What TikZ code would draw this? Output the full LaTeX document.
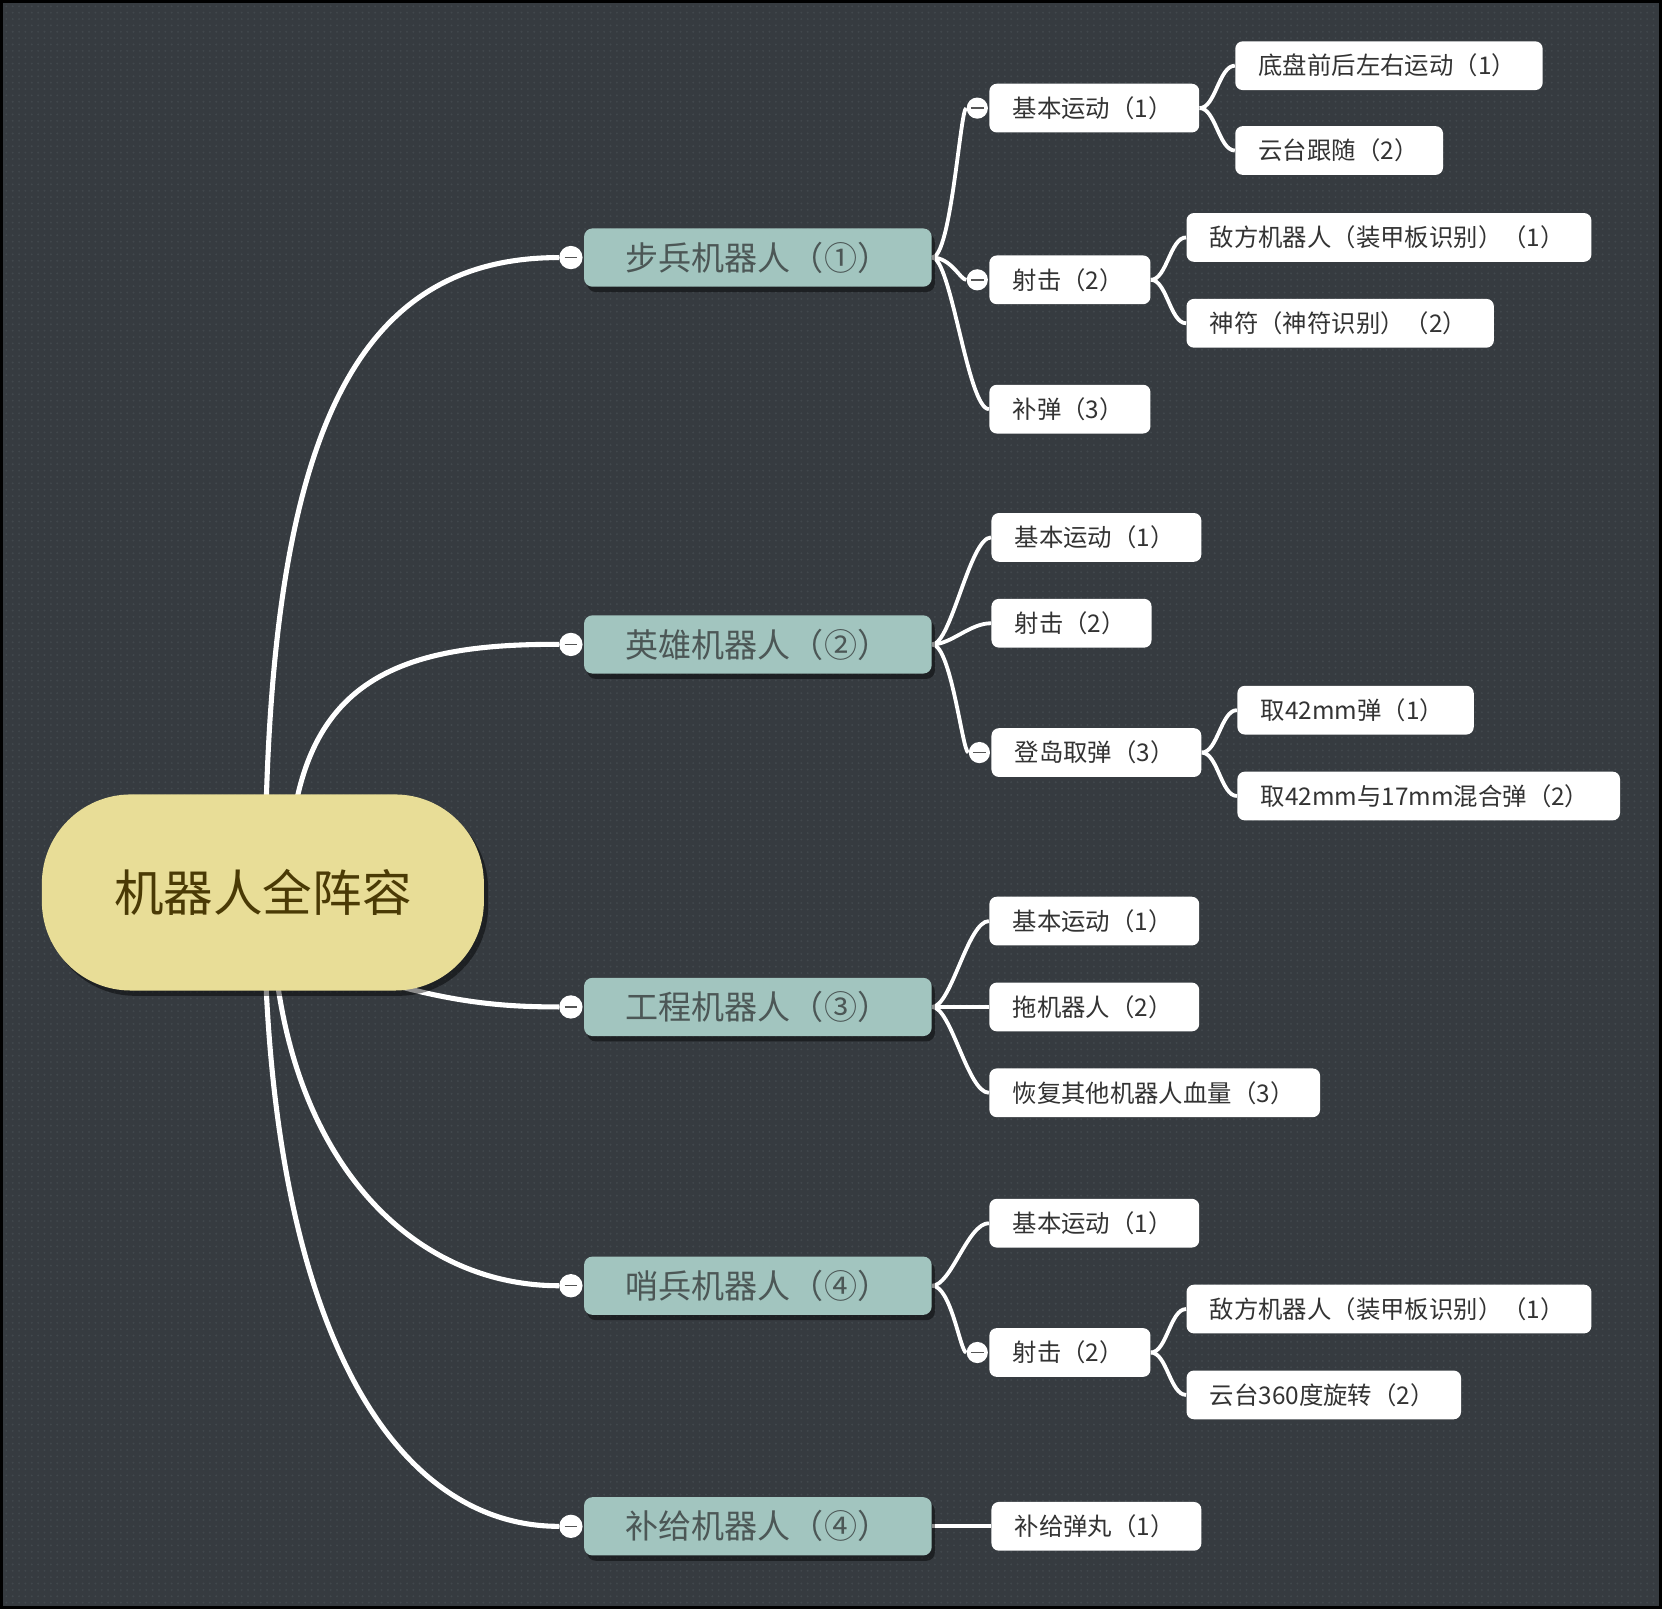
\documentclass[tikz,border=0pt]{standalone}
\usepackage{fontspec}
\newfontfamily\cjk{Noto Sans CJK SC}
\usetikzlibrary{shadows,patterns,calc}
\definecolor{bgc}{HTML}{363B40}
\definecolor{dotc}{HTML}{42484D}
\definecolor{rootc}{HTML}{E8DD97}
\definecolor{roottxt}{HTML}{4A3A05}
\definecolor{lonec}{HTML}{A2C5BF}
\definecolor{lonetxt}{HTML}{4C5756}
\definecolor{leaftxt}{HTML}{333333}
\definecolor{btnc}{HTML}{555555}
\pgfdeclarelayer{back}
\pgfdeclarelayer{links}
\pgfsetlayers{back,links,main}
\tikzset{
  rootnode/.style={fill=rootc, rounded corners=42pt, minimum width=208.5pt,
    minimum height=92.5pt, inner sep=0pt, font=\cjk\fontsize{23.4}{28}\selectfont,
    text=roottxt, drop shadow={shadow xshift=2pt, shadow yshift=-2.5pt, fill=black, opacity=0.45}},
  mainbox/.style={fill=lonec, rounded corners=4pt, minimum width=164pt,
    minimum height=27.5pt, inner sep=0pt, font=\cjk\fontsize{15.6}{18}\selectfont,
    text=lonetxt, drop shadow={shadow xshift=1.5pt, shadow yshift=-2.5pt, fill=black, opacity=0.45}},
  leafbox/.style={fill=white, rounded corners=3.5pt, anchor=west, minimum height=23pt,
    inner xsep=11pt, inner ysep=0pt, align=left, font=\cjk\fontsize{11.5}{13}\selectfont,
    text=leaftxt},
  btnnode/.style={circle, fill=white, minimum size=#1, inner sep=0pt,
    path picture={\draw[btnc, line width=0.7pt]
      ([xshift=-3pt]path picture bounding box.center) -- ([xshift=3pt]path picture bounding box.center);}},
  rootline/.style={white, line width=2.4pt},
  subline/.style={white, line width=1.8pt},
}
\newcommand\leafnode[5]{%
  \pgfmathsetmacro\leafw{(#3-#2)*0.5-22}%
  \node[leafbox, text width=\leafw pt] (#1) at (#2,#4) {#5};%
}
\begin{document}
\begin{tikzpicture}[x=0.5pt,y=-0.5pt]
\useasboundingbox (0,0) rectangle (1568,1518);
\begin{pgfonlayer}{back}
  \fill[bgc] (0,0) rectangle (1568,1518);
  \fill[pattern=dots, pattern color=dotc] (0,0) rectangle (1568,1518);
  \draw[black, line width=3pt] (0,0) rectangle (1568,1518);
\end{pgfonlayer}

% root
\node[rootnode] (root) at (248,842) {机器人全阵容};

% level 1
\node[mainbox] (inf) at (715,243) {步兵机器人（①）};
\node[mainbox] (hero) at (715,608) {英雄机器人（②）};
\node[mainbox] (eng) at (715,950) {工程机器人（③）};
\node[mainbox] (sen) at (715,1213) {哨兵机器人（④）};
\node[mainbox] (sup) at (715,1440) {补给机器人（④）};

\node[btnnode=11pt] (infbtn) at ([xshift=-6pt]inf.west) {};
\node[btnnode=11pt] (herobtn) at ([xshift=-6pt]hero.west) {};
\node[btnnode=11pt] (engbtn) at ([xshift=-6pt]eng.west) {};
\node[btnnode=11pt] (senbtn) at ([xshift=-6pt]sen.west) {};
\node[btnnode=11pt] (supbtn) at ([xshift=-6pt]sup.west) {};

% infantry
\leafnode{ia}{933}{1131}{102}{基本运动（1）}
\leafnode{iaa}{1165}{1455}{62}{底盘前后左右运动（1）}
\leafnode{iab}{1165}{1361}{142}{云台跟随（2）}
\leafnode{ib}{933}{1085}{264}{射击（2）}
\leafnode{iba}{1119}{1501}{224}{敌方机器人（装甲板识别）（1）}
\leafnode{ibb}{1119}{1409}{305}{神符（神符识别）（2）}
\leafnode{ic}{933}{1085}{386}{补弹（3）}
\node[btnnode=10pt] (iabtn) at ([xshift=-5.5pt]ia.west) {};
\node[btnnode=10pt] (ibbtn) at ([xshift=-5.5pt]ib.west) {};

% hero
\leafnode{ha}{935}{1133}{507}{基本运动（1）}
\leafnode{hb}{935}{1086}{588}{射击（2）}
\leafnode{hc}{935}{1133}{710}{登岛取弹（3）}
\leafnode{hca}{1167}{1390}{670}{取42mm弹（1）}
\leafnode{hcb}{1167}{1528}{751}{取42mm与17mm混合弹（2）}
\node[btnnode=10pt] (hcbtn) at ([xshift=-5.5pt]hc.west) {};

% engineer
\leafnode{ea}{933}{1131}{869}{基本运动（1）}
\leafnode{eb}{933}{1131}{950}{拖机器人（2）}
\leafnode{ec}{933}{1245}{1031}{恢复其他机器人血量（3）}

% sentry
\leafnode{sa}{933}{1131}{1154}{基本运动（1）}
\leafnode{sb}{933}{1085}{1276}{射击（2）}
\leafnode{sba}{1119}{1501}{1235}{敌方机器人（装甲板识别）（1）}
\leafnode{sbb}{1119}{1378}{1316}{云台360度旋转（2）}
\node[btnnode=10pt] (sbbtn) at ([xshift=-5.5pt]sb.west) {};

% supply
\leafnode{pa}{935}{1133}{1440}{补给弹丸（1）}

\begin{pgfonlayer}{links}
  % root -> level 1
  \draw[rootline] ($(root.center)+(2,0)$) .. controls (250,420) and (329,243) .. (infbtn);
  \draw[rootline] ($(root.center)+(24,0)$) .. controls (272,650) and (360,607) .. (herobtn);
  \draw[rootline] ($(root.center)+(92,78)$) .. controls (420,945) and (470,950) .. (engbtn);
  \draw[rootline] ($(root.center)+(8,0)$) .. controls (256,1080) and (380,1213) .. (senbtn);
  \draw[rootline] ($(root.center)+(1,0)$) .. controls (249,1250) and (370,1440) .. (supbtn);
  % level 1 -> level 2
  \draw[subline] (inf.east) .. controls +(18,0) and +(-16,0) .. (iabtn);
  \draw[subline] (inf.east) .. controls +(18,0) and +(-16,0) .. (ibbtn);
  \draw[subline] (inf.east) .. controls +(18,0) and +(-20,0) .. (ic.west);
  \draw[subline] (hero.east) .. controls +(18,0) and +(-20,0) .. (ha.west);
  \draw[subline] (hero.east) .. controls +(18,0) and +(-20,0) .. (hb.west);
  \draw[subline] (hero.east) .. controls +(18,0) and +(-16,0) .. (hcbtn);
  \draw[subline] (eng.east) .. controls +(18,0) and +(-20,0) .. (ea.west);
  \draw[subline] (eng.east) .. controls +(18,0) and +(-20,0) .. (eb.west);
  \draw[subline] (eng.east) .. controls +(18,0) and +(-20,0) .. (ec.west);
  \draw[subline] (sen.east) .. controls +(18,0) and +(-20,0) .. (sa.west);
  \draw[subline] (sen.east) .. controls +(18,0) and +(-16,0) .. (sbbtn);
  \draw[subline] (sup.east) -- (pa.west);
  % level 2 -> level 3
  \draw[subline] (ia.east) .. controls +(15,0) and +(-15,0) .. (iaa.west);
  \draw[subline] (ia.east) .. controls +(15,0) and +(-15,0) .. (iab.west);
  \draw[subline] (ib.east) .. controls +(15,0) and +(-15,0) .. (iba.west);
  \draw[subline] (ib.east) .. controls +(15,0) and +(-15,0) .. (ibb.west);
  \draw[subline] (hc.east) .. controls +(15,0) and +(-15,0) .. (hca.west);
  \draw[subline] (hc.east) .. controls +(15,0) and +(-15,0) .. (hcb.west);
  \draw[subline] (sb.east) .. controls +(15,0) and +(-15,0) .. (sba.west);
  \draw[subline] (sb.east) .. controls +(15,0) and +(-15,0) .. (sbb.west);
\end{pgfonlayer}
\end{tikzpicture}
\end{document}
